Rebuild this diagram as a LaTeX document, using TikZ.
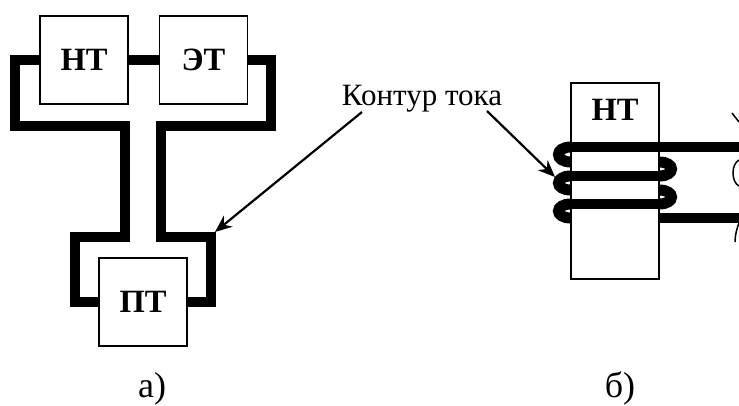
\documentclass[tikz,border=0pt]{standalone}
\usepackage{fontspec}
\setmainfont{Liberation Serif}
\usetikzlibrary{arrows.meta,positioning}
\tikzset{
  % node
  cstbox/.style     ={draw=black,fill=white,line width=1.5pt,minimum size=88pt,inner sep=0pt,font=\bfseries\fontsize{32.5}{32.5}\selectfont},
  csttall/.style    ={draw=black,fill=white,line width=1.5pt,minimum width=88pt,minimum height=196pt,inner sep=0pt},
  cstname/.style    ={inner sep=0pt,font=\bfseries\fontsize{32.5}{32.5}\selectfont},
  cstnote/.style    ={inner sep=0pt,font=\fontsize{31}{31}\selectfont},
  cstmark/.style    ={inner sep=0pt,font=\fontsize{36}{36}\selectfont},
  % curve
  cstwire/.style    ={line width=10pt},
  cstcoil/.style    ={line width=11pt},
  cstthin/.style    ={line width=1.5pt},
  % arrow
  cstra/.style      ={-{Stealth[length=17pt,width=14pt]},line width=2.2pt}
}
\begin{document}
\begin{tikzpicture}[x=1pt,y=-1pt]
  \useasboundingbox (0,0) rectangle (739,405);
  % a
  \node[cstbox] (nt) at (84,60) {НТ};
  \node[cstbox,right=30pt of nt] (et) {ЭТ};
  \node[cstbox] (pt) at (143,302) {ПТ};
  \draw[cstwire] (nt.west) -- (15,60) -- (15,126) -- (125,126) -- (125,237) -- (75,237) -- (75,302) -- (pt.west);
  \draw[cstwire] (et.east) -- (271,60) -- (271,126) -- (161,126) -- (161,237) -- (211,237) -- (211,302) -- (pt.east);
  \draw[cstwire] (nt.east) -- (et.west);
  \node[cstmark,anchor=base] (marka) at (152,397) {а)};
  % b
  \draw[cstcoil] (571,147) .. controls (554.3,147) and (554.3,162) .. (571,162);
  \draw[cstcoil] (571,176) .. controls (554.3,176) and (554.3,190) .. (571,190);
  \draw[cstcoil] (571,204) .. controls (554.3,204) and (554.3,218) .. (571,218);
  \draw[cstcoil] (659,162) .. controls (675.7,162) and (675.7,176) .. (659,176);
  \draw[cstcoil] (659,190) .. controls (675.7,190) and (675.7,204) .. (659,204);
  \node[csttall] (nttall) at (615,181) {};
  \node[cstname,below=17pt of nttall.north] (ntname) {НТ};
  \draw[cstwire] (571,147) -- (739,147);
  \draw[cstwire] (571,176) -- (659,176);
  \draw[cstwire] (571,204) -- (659,204);
  \draw[cstwire] (659,218) -- (739,218);
  \draw[cstthin] (732,113) -- (739,122);
  \draw[cstthin] (739,160) .. controls (731,164) and (731,182) .. (739,186);
  \draw[cstthin] (735,242) .. controls (735,235) and (737,228) .. (739,223);
  \node[cstmark,anchor=base] (markb) at (620,397) {б)};
  % note
  \node[cstnote,anchor=base] (note) at (422,105) {Контур тока};
  \coordinate (tipa) at (215,232);
  \coordinate (tipb) at (555,177);
  \coordinate (starta) at (362,112);
  \coordinate (startb) at (487,111);
  \draw[cstra] (starta) -- (tipa);
  \draw[cstra] (startb) -- (tipb);
\end{tikzpicture}
\end{document}
